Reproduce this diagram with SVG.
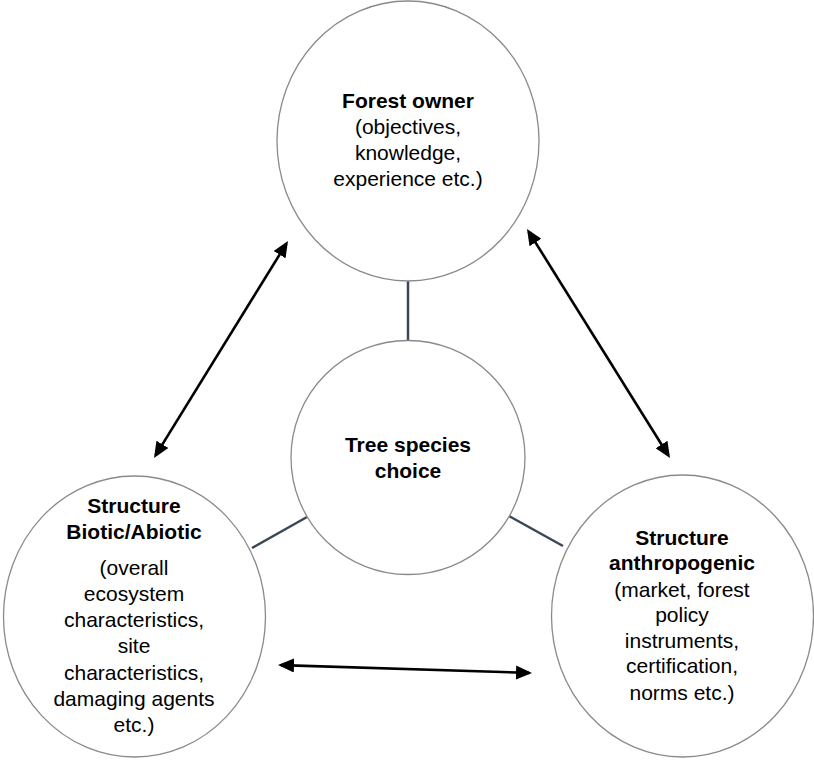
<svg xmlns="http://www.w3.org/2000/svg" width="814" height="760" viewBox="0 0 814 760">
<style>
.node{fill:#fff;stroke:#8a8a8a;stroke-width:1.3}
.t{font-family:"Liberation Sans",Arial,sans-serif;font-size:21px;fill:#000;text-anchor:middle}
.b{font-weight:bold}
.link{stroke:#3a4758;stroke-width:2.5;fill:none}
.arr{stroke:#000;stroke-width:2.6;fill:none;marker-start:url(#ah);marker-end:url(#ah)}
</style>
<defs>
<marker id="ah" viewBox="0 0 16 14" refX="13" refY="7" markerWidth="16" markerHeight="14" markerUnits="userSpaceOnUse" orient="auto-start-reverse">
<path d="M0,0 L16,7 L0,14 z" fill="#000"/>
</marker>
</defs>
<rect width="814" height="760" fill="#fff"/>
<g id="connectors">
<line class="link" x1="408" y1="281" x2="408" y2="341"/>
<line class="link" x1="252" y1="548" x2="307" y2="517"/>
<line class="link" x1="509" y1="516" x2="563" y2="546"/>
<line class="arr" x1="286.4" y1="243.6" x2="155.6" y2="455.4"/>
<line class="arr" x1="528.6" y1="231.5" x2="668.4" y2="455.5"/>
<line class="arr" x1="281" y1="665.1" x2="529" y2="672.9"/>
</g>
<g id="forest-owner">
<ellipse class="node" cx="408" cy="141" rx="131" ry="140"/>
<text class="t b" x="408" y="108">Forest owner</text>
<text class="t" x="408" y="134">(objectives,</text>
<text class="t" x="408" y="160">knowledge,</text>
<text class="t" x="408" y="186">experience etc.)</text>
</g>
<g id="tree-species-choice">
<circle class="node" cx="408" cy="457.5" r="117"/>
<text class="t b" x="408" y="452">Tree species</text>
<text class="t b" x="408" y="478">choice</text>
</g>
<g id="structure-biotic">
<ellipse class="node" cx="134.5" cy="616.5" rx="131" ry="140.5"/>
<text class="t b" x="134" y="513">Structure</text>
<text class="t b" x="134" y="539">Biotic/Abiotic</text>
<text class="t" x="134" y="575">(overall</text>
<text class="t" x="134" y="601">ecosystem</text>
<text class="t" x="134" y="627">characteristics,</text>
<text class="t" x="134" y="653">site</text>
<text class="t" x="134" y="680">characteristics,</text>
<text class="t" x="134" y="706">damaging agents</text>
<text class="t" x="134" y="732">etc.)</text>
</g>
<g id="structure-anthropogenic">
<ellipse class="node" cx="682.5" cy="616" rx="131" ry="141"/>
<text class="t b" x="682" y="545">Structure</text>
<text class="t b" x="682" y="570">anthropogenic</text>
<text class="t" x="682" y="597">(market, forest</text>
<text class="t" x="682" y="622">policy</text>
<text class="t" x="682" y="648">instruments,</text>
<text class="t" x="682" y="673">certification,</text>
<text class="t" x="682" y="700">norms etc.)</text>
</g>
</svg>
